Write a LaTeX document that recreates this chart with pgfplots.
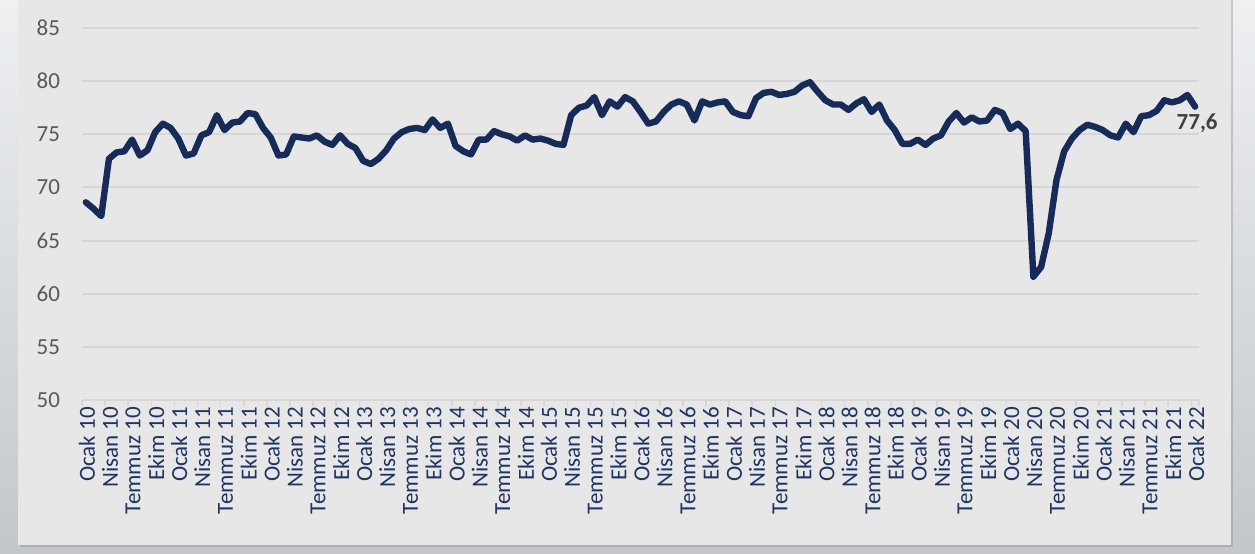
\documentclass[border=0pt]{standalone}
\usepackage{fontspec}
\setmainfont{Carlito}
\usepackage{pgfplots}
\pgfplotsset{compat=1.18}
\usetikzlibrary{shadows}
\definecolor{bgpanel}{HTML}{E7E7E7}
\definecolor{navy}{RGB}{23,43,89}
\definecolor{lbl}{RGB}{31,52,98}
\definecolor{gridc}{HTML}{D6D6D6}
\definecolor{ylab}{HTML}{595959}
\definecolor{dlab}{HTML}{404040}
\definecolor{outtop}{HTML}{EEF0F2}
\definecolor{outbot}{HTML}{C3C7CC}
\begin{document}
\begin{tikzpicture}
\useasboundingbox (0,0) rectangle (627.5pt,276.5pt);
\shade[top color=outtop, bottom color=outbot] (0,0) rectangle (627.5pt,276.5pt);
\fill[bgpanel, drop shadow={opacity=0.35, shadow xshift=1.2pt, shadow yshift=-1.2pt}] (9pt,4pt) rectangle (615.5pt,282pt);
\begin{axis}[
  at={(41pt,76.5pt)}, anchor=south west,
  scale only axis, width=558.5pt, height=186pt,
  xmin=-0.5, xmax=144.5, ymin=50, ymax=85,
  ytick={50,55,...,85},
  xtick={0,3,...,144},
  xticklabels={Ocak 10,Nisan 10,Temmuz 10,Ekim 10,Ocak 11,Nisan 11,Temmuz 11,Ekim 11,Ocak 12,Nisan 12,Temmuz 12,Ekim 12,Ocak 13,Nisan 13,Temmuz 13,Ekim 13,Ocak 14,Nisan 14,Temmuz 14,Ekim 14,Ocak 15,Nisan 15,Temmuz 15,Ekim 15,Ocak 16,Nisan 16,Temmuz 16,Ekim 16,Ocak 17,Nisan 17,Temmuz 17,Ekim 17,Ocak 18,Nisan 18,Temmuz 18,Ekim 18,Ocak 19,Nisan 19,Temmuz 19,Ekim 19,Ocak 20,Nisan 20,Temmuz 20,Ekim 20,Ocak 21,Nisan 21,Temmuz 21,Ekim 21,Ocak 22},
  minor xtick={-0.5,2.5,...,143.5,144.5},
  xtick pos=bottom, ytick pos=left,
  tick align=outside,
  major tick length=0pt,
  minor tick length=3pt,
  minor tick style={gridc, line width=0.8pt},
  ymajorgrids, grid style={gridc, line width=1pt},
  axis line style={draw=none},
  /pgf/number format/assume math mode=true,
  yticklabel style={font=\fontsize{11.5}{13}\selectfont, text=ylab, xshift=-7.5pt},
  xticklabel style={font=\fontsize{11.5}{13}\selectfont, text=lbl, rotate=90, anchor=east, yshift=-0.5pt},
  clip=false,
]
\addplot[navy, line width=3.2pt, line join=round, line cap=round] coordinates {
(0,68.6) (1,68.0) (2,67.3) (3,72.7) (4,73.3) (5,73.4) (6,74.5) (7,73.0) (8,73.5) (9,75.2) (10,76.0) (11,75.6)
(12,74.6) (13,73.0) (14,73.2) (15,74.9) (16,75.2) (17,76.8) (18,75.4) (19,76.1) (20,76.2) (21,77.0) (22,76.9) (23,75.6)
(24,74.7) (25,73.0) (26,73.1) (27,74.8) (28,74.7) (29,74.6) (30,74.9) (31,74.3) (32,74.0) (33,74.9) (34,74.1) (35,73.7)
(36,72.5) (37,72.2) (38,72.7) (39,73.5) (40,74.6) (41,75.2) (42,75.5) (43,75.6) (44,75.4) (45,76.4) (46,75.6) (47,76.0)
(48,73.9) (49,73.4) (50,73.1) (51,74.5) (52,74.5) (53,75.3) (54,75.0) (55,74.8) (56,74.4) (57,74.9) (58,74.5) (59,74.6)
(60,74.4) (61,74.1) (62,74.0) (63,76.8) (64,77.5) (65,77.7) (66,78.5) (67,76.8) (68,78.1) (69,77.6) (70,78.5) (71,78.1)
(72,77.1) (73,76.0) (74,76.2) (75,77.1) (76,77.8) (77,78.1) (78,77.8) (79,76.3) (80,78.1) (81,77.8) (82,78.0) (83,78.1)
(84,77.1) (85,76.8) (86,76.7) (87,78.4) (88,78.9) (89,79.0) (90,78.7) (91,78.8) (92,79.0) (93,79.6) (94,79.9) (95,79.0)
(96,78.2) (97,77.8) (98,77.8) (99,77.3) (100,77.9) (101,78.3) (102,77.1) (103,77.8) (104,76.3) (105,75.4) (106,74.1) (107,74.1)
(108,74.5) (109,74.0) (110,74.6) (111,74.9) (112,76.2) (113,77.0) (114,76.1) (115,76.6) (116,76.2) (117,76.3) (118,77.3) (119,77.0)
(120,75.5) (121,76.0) (122,75.3) (123,61.6) (124,62.5) (125,65.7) (126,70.7) (127,73.4) (128,74.6) (129,75.4) (130,75.9) (131,75.7)
(132,75.4) (133,74.9) (134,74.7) (135,76.0) (136,75.2) (137,76.7) (138,76.8) (139,77.2) (140,78.2) (141,78.0) (142,78.2) (143,78.7)
(144,77.6)
};
\node[anchor=north, text=dlab, font=\bfseries\fontsize{11.5}{13}\selectfont, inner sep=0pt, yshift=-3.5pt, xshift=1pt] at (axis cs:144,77.6) {77,6};
\end{axis}
\end{tikzpicture}
\end{document}
